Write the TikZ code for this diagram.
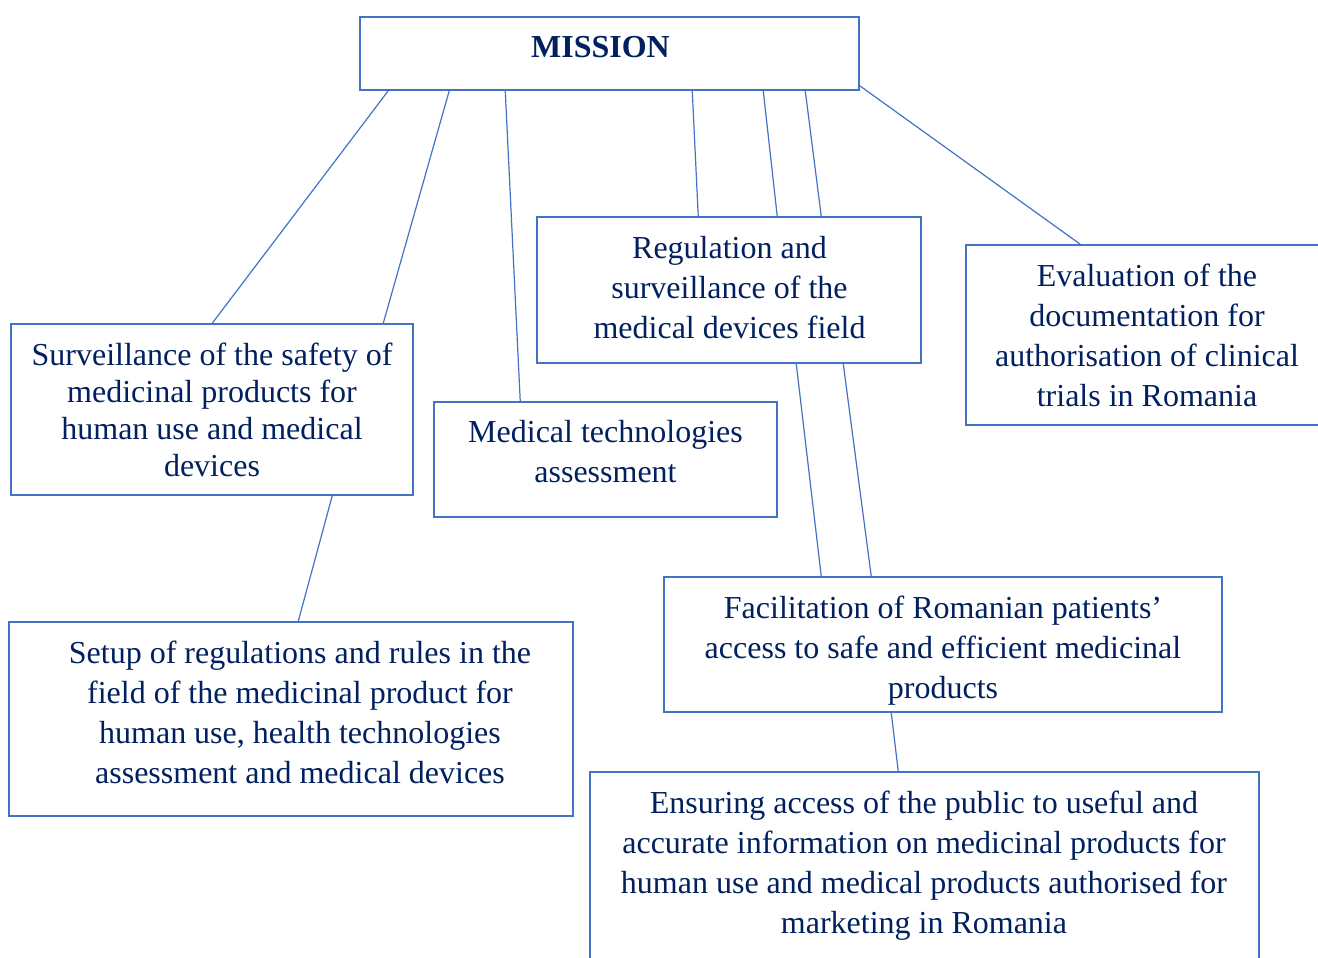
\documentclass[tikz,border=0pt]{standalone}
\usepackage{fontspec}
\setmainfont{Liberation Serif}
\usetikzlibrary{calc}
\definecolor{frame}{HTML}{4472C4}
\definecolor{navy}{HTML}{002060}

\begin{document}
\begin{tikzpicture}[
    x=0.5pt, y=-0.5pt,
    box/.style={draw=frame, line width=0.75pt, inner sep=0pt},
    txt/.style={align=center, inner sep=0pt, text=navy, font=\fontsize{16}{20}\selectfont},
    link/.style={draw=frame, line width=0.6pt},
  ]
  \fill[white] (0,0) rectangle (1318,958);
  \useasboundingbox (0,0) rectangle (1318,958);

  % Frames
  \node[box, minimum width=249.5pt, minimum height=36.5pt] (mission) at (609.5,53.5) {};
  \node[box, minimum width=192pt, minimum height=73pt] (reg) at (729,290) {};
  \node[box, minimum width=181pt, minimum height=90pt] (eval) at (1147,335) {};
  \node[box, minimum width=201pt, minimum height=85.5pt] (surv) at (212,409.5) {};
  \node[box, minimum width=171.5pt, minimum height=57.5pt] (medtech) at (605.5,459.5) {};
  \node[box, minimum width=282pt, minimum height=97pt] (setup) at (291,719) {};
  \node[box, minimum width=279pt, minimum height=67.5pt] (facil) at (943,644.5) {};
  \node[box, minimum width=334.5pt, minimum height=97pt] (ens) at (924.5,869) {};

  % Texts
  \node[txt, font=\fontsize{16}{20}\selectfont\bfseries] (mission-t) at (600.5,47.5) {MISSION};
  \node[txt] (reg-t) at (729.5,288) {Regulation and\\surveillance of the\\medical devices field};
  \node[txt] (eval-t) at (1147,335) {Evaluation of the\\documentation for\\authorisation of clinical\\trials in Romania};
  \node[txt, font=\fontsize{16}{18.5}\selectfont] (surv-t) at (212,410)
    {Surveillance of the safety of\\medicinal products for\\human use and medical\\devices};
  \node[txt] (medtech-t) at (605.5,451.5) {Medical technologies\\assessment};
  \node[txt] (setup-t) at (300,712.5)
    {Setup of regulations and rules in the\\field of the medicinal product for\\human use, health technologies\\assessment and medical devices};
  \node[txt] (facil-t) at (943,650.5)
    {Facilitation of Romanian patients’\\access to safe and efficient medicinal\\products};
  \node[txt] (ens-t) at (924,865.5)
    {Ensuring access of the public to useful and\\accurate information on medicinal products for\\human use and medical products authorised for\\marketing in Romania};

  % Links
  \draw[link] ($(mission.south west)+(29,0)$) -- ($(surv.north west)+(202,0)$);
  \draw[link] ($(mission.south west)+(90,0)$) -- ($(surv.north west)+(373,0)$);
  \draw[link] ($(mission.south west)+(146,0)$) -- ($(medtech.north west)+(87,0)$);
  \draw[link] ($(mission.south west)+(333,0)$) -- ($(reg.north west)+(162,0)$);
  \draw[link] ($(mission.south west)+(404,0)$) -- ($(reg.north west)+(241,0)$);
  \draw[link] ($(mission.south west)+(446,0)$) -- ($(reg.north west)+(285,0)$);
  \draw[link] ($(mission.south east)+(0,-5)$) -- ($(eval.north west)+(115,0)$);
  \draw[link] ($(surv.south west)+(322,0)$) -- ($(setup.north west)+(290,0)$);
  \draw[link] ($(reg.south west)+(260,0)$) -- ($(facil.north west)+(158,0)$);
  \draw[link] ($(reg.south west)+(307,0)$) -- ($(facil.north west)+(208,0)$);
  \draw[link] ($(facil.south west)+(228,0)$) -- ($(ens.north west)+(309,0)$);
\end{tikzpicture}
\end{document}
